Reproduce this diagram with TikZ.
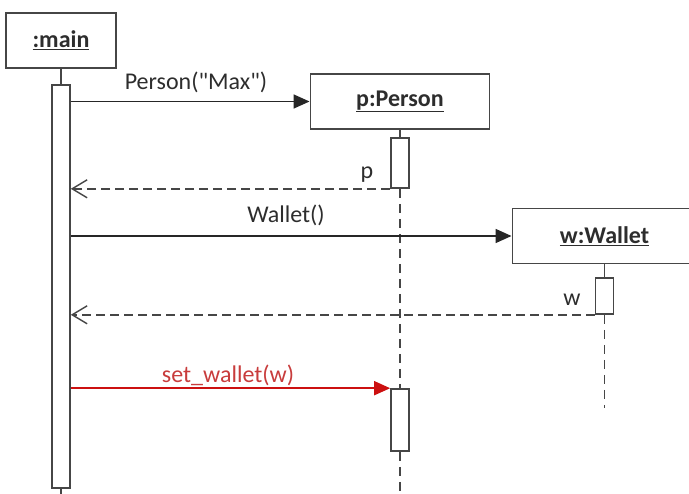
\documentclass[tikz,border=0pt]{standalone}
\usepackage{fontspec}
\setmainfont{Carlito}[Ligatures=TeXOff]
\usetikzlibrary{arrows.meta}
\definecolor{ln}{RGB}{70,70,70}
\definecolor{txt}{RGB}{45,45,45}
\definecolor{msgred}{RGB}{204,16,16}
\definecolor{redtxt}{RGB}{200,60,60}
\begin{document}
\begin{tikzpicture}[x=1pt,y=-1pt,
  obj/.style={draw=ln, line width=1.9pt, fill=white, minimum width=#1, minimum height=55pt, inner sep=0pt, text=txt, font=\fontsize{24}{28}\selectfont\bfseries},
  actbar/.style={draw=ln, line width=1.6pt, fill=white, minimum width=18pt, minimum height=#1, inner sep=0pt},
  life/.style={draw=ln, line width=1.6pt},
  lifedash/.style={draw=ln, line width=1.6pt, dash pattern=on 9pt off 6pt},
  call/.style={draw=black!85, line width=1.6pt, -{Triangle[length=16pt,width=14pt]}},
  redcall/.style={draw=msgred, line width=1.6pt, -{Triangle[length=16pt,width=14pt]}},
  ret/.style={draw=ln, line width=1.6pt, dash pattern=on 9pt off 5pt, -{Straight Barb[length=15pt,width=18pt,line width=1.4pt]}},
  lbl/.style={text=txt, inner sep=0pt, anchor=base, font=\fontsize{24}{28}\selectfont},
  redlbl/.style={text=redtxt, inner sep=0pt, anchor=base, font=\fontsize{24}{28}\selectfont}]

\useasboundingbox (0,0) rectangle (689,494);
\clip (0,0) rectangle (689,494);

% lifeline objects
\node[obj=110pt] (main) at (61,40.5) {\underline{:main}};
\node[obj=179pt] (person) at (400,101.5) {\underline{p:Person}};
\node[obj=184pt] (wallet) at (604.5,236) {\underline{w:Wallet}};

% activation bars
\node[actbar=403pt] (mainbar) at (61,286.5) {};
\node[actbar=50pt] (pbarA) at (400,163) {};
\node[actbar=62pt] (pbarB) at (400,420) {};
\node[actbar=36pt] (wbar) at (604.5,296) {};

\coordinate (mainend) at (61,494);
\coordinate (pend) at (400,494);
\coordinate (wend) at (604.5,408);

% lifelines
\draw[life] (main.south) -- (mainbar.north);
\draw[life] (mainbar.south) -- (mainend);
\draw[life] (person.south) -- (pbarA.north);
\draw[lifedash] (pbarA.south) -- (pbarB.north);
\draw[lifedash] (pbarB.south) -- (pend);
\draw[life] (wallet.south) -- (wbar.north);
\draw[lifedash] (wbar.south) -- (wend);

% messages
\draw[call] (mainbar.east |- person.west) -- (person.west);
\draw[ret] (pbarA.south west) -- (mainbar.east |- pbarA.south west);
\draw[call] (mainbar.east |- wallet.west) -- (wallet.west);
\draw[ret] (wbar.south west) -- (mainbar.east |- wbar.south west);
\draw[redcall] (mainbar.east |- pbarB.north west) -- (pbarB.north west);

% labels
\node[lbl] (lPerson) at (196,90) {Person("Max")};
\node[lbl] (lp) at (367,179) {p};
\node[lbl] (lWallet) at (286,223) {Wallet()};
\node[lbl] (lw) at (572,306) {w};
\node[redlbl] (lset) at (228,383) {set\_wallet(w)};
\end{tikzpicture}
\end{document}
